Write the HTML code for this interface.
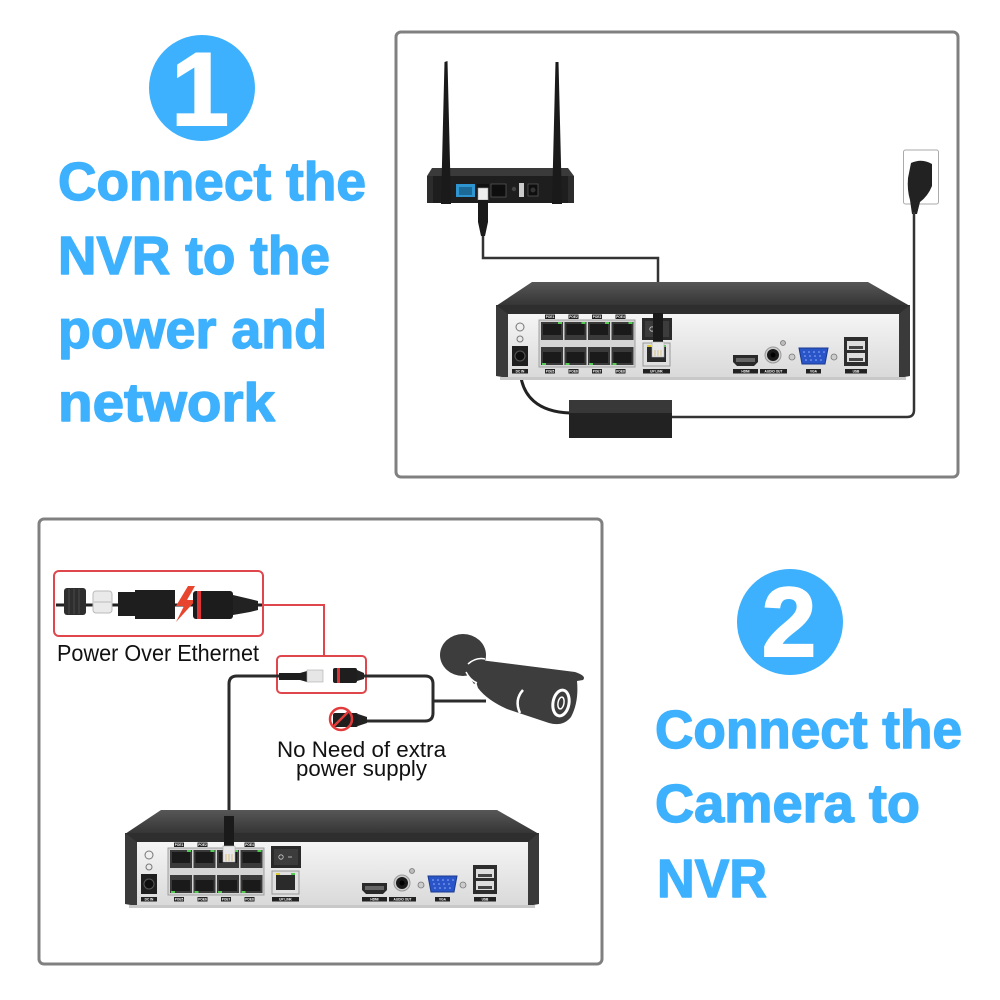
<!DOCTYPE html>
<html>
<head>
<meta charset="utf-8">
<style>
  html,body{margin:0;padding:0;background:#fff;}
  svg{display:block;}
  .bt{font-family:"Liberation Sans",Arial,sans-serif;font-weight:bold;fill:#3db1fd;stroke:#3db1fd;stroke-width:1.4px;stroke-linejoin:round;}
  .lb{font-family:"Liberation Sans",Arial,sans-serif;font-size:3.2px;fill:#fff;font-weight:bold;}
  .dt{font-family:"Liberation Sans",Arial,sans-serif;fill:#111;}
</style>
</head>
<body>
<svg width="1000" height="1000" viewBox="0 0 1000 1000" xmlns="http://www.w3.org/2000/svg">
  <defs>
    <linearGradient id="tg" x1="0" y1="0" x2="0" y2="1">
      <stop offset="0" stop-color="#575757"/>
      <stop offset="1" stop-color="#343434"/>
    </linearGradient>
    <linearGradient id="fg" x1="0" y1="0" x2="0" y2="1">
      <stop offset="0" stop-color="#f5f5f5"/>
      <stop offset="1" stop-color="#d9d9d9"/>
    </linearGradient>
  </defs>
  <rect width="1000" height="1000" fill="#fff"/>

  <!-- ===== Step 1 text ===== -->
  <circle cx="202" cy="88" r="53" fill="#3db1fd"/>
  <text x="200" y="125" font-size="104" text-anchor="middle" font-family="Liberation Sans, Arial, sans-serif" font-weight="bold" fill="#fff" stroke="#fff" stroke-width="2">1</text>
  <text class="bt" x="58" y="200" font-size="54" textLength="308" lengthAdjust="spacingAndGlyphs">Connect the</text>
  <text class="bt" x="58" y="274" font-size="54" textLength="272" lengthAdjust="spacingAndGlyphs">NVR to the</text>
  <text class="bt" x="58" y="348" font-size="54" textLength="269" lengthAdjust="spacingAndGlyphs">power and</text>
  <text class="bt" x="58" y="421" font-size="54" textLength="217" lengthAdjust="spacingAndGlyphs">network</text>

  <!-- ===== Step 2 text ===== -->
  <circle cx="790" cy="622" r="53" fill="#3db1fd"/>
  <text x="789" y="656" font-size="98" text-anchor="middle" font-family="Liberation Sans, Arial, sans-serif" font-weight="bold" fill="#fff" stroke="#fff" stroke-width="2">2</text>
  <text class="bt" x="655" y="748" font-size="54" textLength="307" lengthAdjust="spacingAndGlyphs">Connect the</text>
  <text class="bt" x="655" y="822" font-size="54" textLength="265" lengthAdjust="spacingAndGlyphs">Camera to</text>
  <text class="bt" x="657" y="897" font-size="54" textLength="110" lengthAdjust="spacingAndGlyphs">NVR</text>

  <!-- ===== Panels ===== -->
  <rect x="396" y="32" width="562" height="445" rx="5" fill="none" stroke="#808080" stroke-width="3"/>
  <rect x="39" y="519" width="563" height="445" rx="5" fill="none" stroke="#808080" stroke-width="3"/>

  <!-- ===== Top panel: router ===== -->
  <polygon points="432,168 568,168 574,176 427,176" fill="#3a3a3a"/>
  <rect x="427" y="176" width="147" height="27" fill="#1e1e1e"/>
  <rect x="427" y="176" width="6" height="27" fill="#2c2c2c"/>
  <rect x="568" y="176" width="6" height="27" fill="#2c2c2c"/>
  <polygon points="441,204 444.5,62 447.5,61 451,204" fill="#1a1a1a"/>
  <polygon points="552,204 555.5,62 558.5,62 562,204" fill="#1a1a1a"/>
  <rect x="456" y="184" width="19" height="13" fill="#2f95d0"/>
  <rect x="459" y="187" width="13" height="8" fill="#1b6a98"/>
  <rect x="477" y="184" width="12" height="13" fill="#111"/>
  <rect x="491" y="184" width="15" height="13" fill="#0e0e0e" stroke="#555" stroke-width="0.8"/>
  <circle cx="514" cy="189" r="2.2" fill="#444"/>
  <rect x="519" y="183" width="5" height="14" fill="#ccc"/>
  <rect x="528" y="184" width="10" height="12" fill="#0e0e0e" stroke="#555" stroke-width="0.8"/>
  <circle cx="533" cy="190" r="2.5" fill="#333"/>
  <!-- router plug -->
  <rect x="478" y="188" width="10" height="12" fill="#eee" stroke="#999" stroke-width="0.6"/>
  <path d="M478,200 H488 V222 L485,236 H481 L478,222 Z" fill="#1a1a1a"/>
  <path d="M483,236 V258 H658 V314" stroke="#333" stroke-width="2.5" fill="none"/>

  <!-- wall outlet -->
  <rect x="903.5" y="150" width="35" height="54" rx="2" fill="#fff" stroke="#aaa" stroke-width="1"/>
  <path d="M911,163 Q922,158 932,164 L932,186 Q928,196 920,202 L917,214 L912,214 L910,200 Q907,190 908,178 Z" fill="#222"/>
  <path d="M914,212 V410 Q914,417 907,417 H672" stroke="#333" stroke-width="2.5" fill="none"/>

  <!-- adapter -->
  <path d="M520,366 C520,398 540,412 570,413" stroke="#222" stroke-width="3" fill="none"/>
  <rect x="569" y="400" width="103" height="38" fill="#222"/>
  <rect x="569" y="400" width="103" height="13" fill="#383838"/>

  <!-- ===== NVR (top) ===== -->
  <g id="nvrTop">
    <polygon points="532,282 868,282 910,306 496,306" fill="url(#tg)"/>
    <rect x="496" y="305" width="414" height="10" fill="#2e2e2e"/>
    <rect x="507" y="314" width="393" height="64" fill="url(#fg)"/>
    <polygon points="496,305 508,314 508,378 496,376" fill="#3a3a3a"/>
    <polygon points="910,305 899,314 899,378 910,376" fill="#3a3a3a"/>
    <rect x="500" y="377" width="406" height="3" fill="#c8c8c8"/>
    <circle cx="520" cy="327" r="4" fill="none" stroke="#777" stroke-width="1"/>
    <circle cx="520" cy="339" r="3" fill="none" stroke="#777" stroke-width="1"/>
    <rect x="512" y="346" width="16" height="20" fill="#1e1e1e"/>
    <circle cx="520" cy="356" r="5" fill="#0e0e0e" stroke="#555" stroke-width="1"/>
    <rect x="512" y="369" width="16" height="4.5" fill="#222"/><text class="lb" x="520" y="372.6" text-anchor="middle">DC IN</text>
    <rect x="539" y="320" width="96" height="47" fill="#d5d5d5" stroke="#a0a0a0" stroke-width="1"/>
    <rect x="541" y="322" width="22" height="18" fill="#3a3a3a"/><rect x="543" y="324" width="18" height="11" fill="#1a1a1a"/><rect x="558" y="322" width="4" height="2" fill="#5c5"/>
    <rect x="564.5" y="322" width="22" height="18" fill="#3a3a3a"/><rect x="566.5" y="324" width="18" height="11" fill="#1a1a1a"/><rect x="581.5" y="322" width="4" height="2" fill="#5c5"/>
    <rect x="588" y="322" width="22" height="18" fill="#3a3a3a"/><rect x="590" y="324" width="18" height="11" fill="#1a1a1a"/><rect x="605" y="322" width="4" height="2" fill="#5c5"/>
    <rect x="611.5" y="322" width="22" height="18" fill="#3a3a3a"/><rect x="613.5" y="324" width="18" height="11" fill="#1a1a1a"/><rect x="628.5" y="322" width="4" height="2" fill="#5c5"/>
    <rect x="541" y="347" width="22" height="18" fill="#3a3a3a"/><rect x="543" y="352" width="18" height="11" fill="#1a1a1a"/><rect x="542" y="363" width="4" height="2" fill="#5c5"/>
    <rect x="564.5" y="347" width="22" height="18" fill="#3a3a3a"/><rect x="566.5" y="352" width="18" height="11" fill="#1a1a1a"/><rect x="565.5" y="363" width="4" height="2" fill="#5c5"/>
    <rect x="588" y="347" width="22" height="18" fill="#3a3a3a"/><rect x="590" y="352" width="18" height="11" fill="#1a1a1a"/><rect x="589" y="363" width="4" height="2" fill="#5c5"/>
    <rect x="611.5" y="347" width="22" height="18" fill="#3a3a3a"/><rect x="613.5" y="352" width="18" height="11" fill="#1a1a1a"/><rect x="612.5" y="363" width="4" height="2" fill="#5c5"/>
    <rect x="545" y="314.5" width="10" height="4.5" fill="#222"/><text class="lb" x="550" y="318" text-anchor="middle">POE1</text>
    <rect x="568.5" y="314.5" width="10" height="4.5" fill="#222"/><text class="lb" x="573.5" y="318" text-anchor="middle">POE2</text>
    <rect x="592" y="314.5" width="10" height="4.5" fill="#222"/><text class="lb" x="597" y="318" text-anchor="middle">POE3</text>
    <rect x="615.5" y="314.5" width="10" height="4.5" fill="#222"/><text class="lb" x="620.5" y="318" text-anchor="middle">POE4</text>
    <rect x="545" y="369" width="10" height="4.5" fill="#222"/><text class="lb" x="550" y="372.6" text-anchor="middle">POE5</text>
    <rect x="568.5" y="369" width="10" height="4.5" fill="#222"/><text class="lb" x="573.5" y="372.6" text-anchor="middle">POE6</text>
    <rect x="592" y="369" width="10" height="4.5" fill="#222"/><text class="lb" x="597" y="372.6" text-anchor="middle">POE7</text>
    <rect x="615.5" y="369" width="10" height="4.5" fill="#222"/><text class="lb" x="620.5" y="372.6" text-anchor="middle">POE8</text>
    <rect x="642" y="318" width="30" height="22" fill="#2a2a2a"/>
    <rect x="645" y="321" width="24" height="16" fill="#3c3c3c"/>
    <circle cx="652" cy="329" r="2.2" fill="none" stroke="#ccc" stroke-width="0.8"/>
    <line x1="659" y1="329" x2="663" y2="329" stroke="#ccc" stroke-width="0.8"/>
    <rect x="643" y="343" width="27" height="23" fill="#e0e0e0" stroke="#999" stroke-width="1"/>
    <rect x="647" y="347" width="19" height="15" fill="#2a2a2a"/>
    <rect x="647" y="345" width="4" height="2" fill="#dc3"/><rect x="662" y="345" width="4" height="2" fill="#5c5"/>
    <rect x="643" y="369" width="27" height="4.5" fill="#222"/><text class="lb" x="656.5" y="372.6" text-anchor="middle">UP LINK</text>
    <path d="M733,355 L758,355 L758,362 L754,366 L737,366 L733,362 Z" fill="#2a2a2a"/>
    <rect x="736" y="358" width="19" height="4" fill="#666"/>
    <rect x="733" y="369" width="25" height="4.5" fill="#222"/><text class="lb" x="745.5" y="372.6" text-anchor="middle">HDMI</text>
    <circle cx="773" cy="355" r="8" fill="#ccc" stroke="#999" stroke-width="1"/>
    <circle cx="773" cy="355" r="6" fill="#1a1a1a"/>
    <circle cx="773" cy="355" r="2.5" fill="#000"/>
    <circle cx="783" cy="343" r="2.5" fill="#bbb" stroke="#777" stroke-width="0.8"/>
    <rect x="760" y="369" width="27" height="4.5" fill="#222"/><text class="lb" x="773.5" y="372.6" text-anchor="middle">AUDIO OUT</text>
    <circle cx="792" cy="357" r="3" fill="#ccc" stroke="#777" stroke-width="0.8"/>
    <circle cx="834" cy="357" r="3" fill="#ccc" stroke="#777" stroke-width="0.8"/>
    <path d="M799,348 L828,348 L825,364 L802,364 Z" fill="#2a55c8" stroke="#1a3a90" stroke-width="1"/>
    <g fill="#9bb4ff">
      <circle cx="804" cy="352" r="0.8"/><circle cx="809" cy="352" r="0.8"/><circle cx="814" cy="352" r="0.8"/><circle cx="819" cy="352" r="0.8"/><circle cx="824" cy="352" r="0.8"/>
      <circle cx="805" cy="356" r="0.8"/><circle cx="810" cy="356" r="0.8"/><circle cx="815" cy="356" r="0.8"/><circle cx="820" cy="356" r="0.8"/>
      <circle cx="806" cy="360" r="0.8"/><circle cx="811" cy="360" r="0.8"/><circle cx="816" cy="360" r="0.8"/><circle cx="821" cy="360" r="0.8"/>
    </g>
    <rect x="806" y="369" width="15" height="4.5" fill="#222"/><text class="lb" x="813.5" y="372.6" text-anchor="middle">VGA</text>
    <rect x="844" y="337" width="24" height="29" fill="#2d2d2d"/>
    <rect x="847" y="341" width="18" height="9" fill="#ddd"/><rect x="849" y="346" width="14" height="3" fill="#444"/>
    <rect x="847" y="353" width="18" height="9" fill="#ddd"/><rect x="849" y="358" width="14" height="3" fill="#444"/>
    <rect x="845" y="369" width="22" height="4.5" fill="#222"/><text class="lb" x="856" y="372.6" text-anchor="middle">USB</text>
  </g>
  <!-- top NVR uplink plug -->
  <rect x="653" y="313" width="10" height="31" fill="#1a1a1a"/>
  <rect x="652" y="342" width="12" height="15" fill="#e8e8e8" stroke="#aaa" stroke-width="0.6"/>
  <line x1="655" y1="350" x2="655" y2="356" stroke="#c9a43a" stroke-width="0.6"/>
  <line x1="658" y1="350" x2="658" y2="356" stroke="#c9a43a" stroke-width="0.6"/>
  <line x1="661" y1="350" x2="661" y2="356" stroke="#c9a43a" stroke-width="0.6"/>

  <!-- ===== Bottom panel ===== -->
  <rect x="54" y="571" width="209" height="65" rx="5" fill="none" stroke="#e0474c" stroke-width="2"/>
  <path d="M56,605 H262" stroke="#222" stroke-width="3"/>
  <rect x="64" y="588" width="22" height="27" rx="3" fill="#2e2e2e"/>
  <g stroke="#4a4a4a" stroke-width="1">
    <line x1="69" y1="589" x2="69" y2="614"/><line x1="74" y1="589" x2="74" y2="614"/><line x1="79" y1="589" x2="79" y2="614"/>
  </g>
  <rect x="93" y="591" width="19" height="22" rx="3" fill="#eaeaea" stroke="#bbb" stroke-width="1"/>
  <line x1="94" y1="602" x2="111" y2="602" stroke="#bbb" stroke-width="1"/>
  <path d="M118,592 H135 V590 H175 V619 H135 V616 H118 Z" fill="#1e1e1e"/>
  <polygon points="188,586 176,606 184,606 176,622 196,600 187,600 195,586" fill="#e8452e"/>
  <rect x="193" y="591" width="40" height="28" rx="3" fill="#1c1c1c"/>
  <rect x="197" y="591" width="4" height="28" fill="#d33"/>
  <path d="M233,595 L250,599 L258,601 V610 L250,612 L233,615 Z" fill="#222"/>
  <text class="dt" x="57" y="661" font-size="23" textLength="202" lengthAdjust="spacingAndGlyphs">Power Over Ethernet</text>

  <path d="M263,605 H324 V656" stroke="#e0474c" stroke-width="2" fill="none"/>
  <rect x="277" y="656" width="89" height="37" rx="4" fill="none" stroke="#e0474c" stroke-width="2"/>

  <path d="M280,676 H237 Q229,676 229,684 V818" stroke="#2b2b2b" stroke-width="3" fill="none"/>
  <path d="M362,676 H425 Q433,676 433,684 V713 Q433,721 425,721 H366" stroke="#2b2b2b" stroke-width="3" fill="none"/>
  <path d="M433,701 H486" stroke="#2b2b2b" stroke-width="3" fill="none"/>

  <path d="M279,673 H300 L307,671 V682 L300,680 H279 Z" fill="#1e1e1e"/>
  <rect x="307" y="670" width="16" height="12" fill="#e6e6e6" stroke="#aaa" stroke-width="0.6"/>
  <rect x="333" y="668" width="24" height="15" rx="2" fill="#1e1e1e"/>
  <rect x="337" y="668" width="3" height="15" fill="#d33"/>
  <path d="M357,670 L364,673 V679 L357,681 Z" fill="#222"/>

  <rect x="333" y="713" width="25" height="14" rx="2" fill="#1e1e1e"/>
  <path d="M358,714 L367,717 V723 L358,726 Z" fill="#222"/>
  <circle cx="341" cy="719" r="11" fill="none" stroke="#e33b3b" stroke-width="2.5"/>
  <line x1="333" y1="727" x2="349" y2="711" stroke="#e33b3b" stroke-width="2.5"/>

  <text class="dt" x="277" y="757" font-size="22" textLength="169" lengthAdjust="spacingAndGlyphs">No Need of extra</text>
  <text class="dt" x="296" y="776" font-size="22" textLength="131" lengthAdjust="spacingAndGlyphs">power supply</text>

  <!-- camera -->
  <ellipse cx="463" cy="655" rx="23" ry="21" fill="#3d3d3d"/>
  <path d="M464,668 L482,657 L492,672 L474,684 Z" fill="#3d3d3d"/>
  <path d="M480,660 L575,672 Q587,676 583,680 L577,681 Q579,702 571,717 Q563,727 549,723 L507,709 Q487,700 478,688 Q472,672 480,660 Z" fill="#3d3d3d"/>
  <path d="M468,664 Q476,657 485,659" stroke="#fff" stroke-width="1.5" fill="none"/>
  <path d="M466,672 Q470,680 477,683" stroke="#fff" stroke-width="1.5" fill="none"/>
  <ellipse cx="561" cy="703" rx="8" ry="13" fill="none" stroke="#fff" stroke-width="3" transform="rotate(10 561 703)"/>
  <ellipse cx="561" cy="703" rx="3" ry="6" fill="none" stroke="#fff" stroke-width="1.5" transform="rotate(10 561 703)"/>
  <path d="M523,690 Q514,700 520,713" stroke="#fff" stroke-width="2.5" fill="none"/>

  <!-- bottom NVR -->
  <g transform="translate(-371,528)">
    <polygon points="532,282 868,282 910,306 496,306" fill="url(#tg)"/>
    <rect x="496" y="305" width="414" height="10" fill="#2e2e2e"/>
    <rect x="507" y="314" width="393" height="64" fill="url(#fg)"/>
    <polygon points="496,305 508,314 508,378 496,376" fill="#3a3a3a"/>
    <polygon points="910,305 899,314 899,378 910,376" fill="#3a3a3a"/>
    <rect x="500" y="377" width="406" height="3" fill="#c8c8c8"/>
    <circle cx="520" cy="327" r="4" fill="none" stroke="#777" stroke-width="1"/>
    <circle cx="520" cy="339" r="3" fill="none" stroke="#777" stroke-width="1"/>
    <rect x="512" y="346" width="16" height="20" fill="#1e1e1e"/>
    <circle cx="520" cy="356" r="5" fill="#0e0e0e" stroke="#555" stroke-width="1"/>
    <rect x="512" y="369" width="16" height="4.5" fill="#222"/><text class="lb" x="520" y="372.6" text-anchor="middle">DC IN</text>
    <rect x="539" y="320" width="96" height="47" fill="#d5d5d5" stroke="#a0a0a0" stroke-width="1"/>
    <rect x="541" y="322" width="22" height="18" fill="#3a3a3a"/><rect x="543" y="324" width="18" height="11" fill="#1a1a1a"/><rect x="558" y="322" width="4" height="2" fill="#5c5"/>
    <rect x="564.5" y="322" width="22" height="18" fill="#3a3a3a"/><rect x="566.5" y="324" width="18" height="11" fill="#1a1a1a"/><rect x="581.5" y="322" width="4" height="2" fill="#5c5"/>
    <rect x="588" y="322" width="22" height="18" fill="#3a3a3a"/><rect x="590" y="324" width="18" height="11" fill="#1a1a1a"/><rect x="605" y="322" width="4" height="2" fill="#5c5"/>
    <rect x="611.5" y="322" width="22" height="18" fill="#3a3a3a"/><rect x="613.5" y="324" width="18" height="11" fill="#1a1a1a"/><rect x="628.5" y="322" width="4" height="2" fill="#5c5"/>
    <rect x="541" y="347" width="22" height="18" fill="#3a3a3a"/><rect x="543" y="352" width="18" height="11" fill="#1a1a1a"/><rect x="542" y="363" width="4" height="2" fill="#5c5"/>
    <rect x="564.5" y="347" width="22" height="18" fill="#3a3a3a"/><rect x="566.5" y="352" width="18" height="11" fill="#1a1a1a"/><rect x="565.5" y="363" width="4" height="2" fill="#5c5"/>
    <rect x="588" y="347" width="22" height="18" fill="#3a3a3a"/><rect x="590" y="352" width="18" height="11" fill="#1a1a1a"/><rect x="589" y="363" width="4" height="2" fill="#5c5"/>
    <rect x="611.5" y="347" width="22" height="18" fill="#3a3a3a"/><rect x="613.5" y="352" width="18" height="11" fill="#1a1a1a"/><rect x="612.5" y="363" width="4" height="2" fill="#5c5"/>
    <rect x="545" y="314.5" width="10" height="4.5" fill="#222"/><text class="lb" x="550" y="318" text-anchor="middle">POE1</text>
    <rect x="568.5" y="314.5" width="10" height="4.5" fill="#222"/><text class="lb" x="573.5" y="318" text-anchor="middle">POE2</text>
    <rect x="615.5" y="314.5" width="10" height="4.5" fill="#222"/><text class="lb" x="620.5" y="318" text-anchor="middle">POE4</text>
    <rect x="545" y="369" width="10" height="4.5" fill="#222"/><text class="lb" x="550" y="372.6" text-anchor="middle">POE5</text>
    <rect x="568.5" y="369" width="10" height="4.5" fill="#222"/><text class="lb" x="573.5" y="372.6" text-anchor="middle">POE6</text>
    <rect x="592" y="369" width="10" height="4.5" fill="#222"/><text class="lb" x="597" y="372.6" text-anchor="middle">POE7</text>
    <rect x="615.5" y="369" width="10" height="4.5" fill="#222"/><text class="lb" x="620.5" y="372.6" text-anchor="middle">POE8</text>
    <rect x="642" y="318" width="30" height="22" fill="#2a2a2a"/>
    <rect x="645" y="321" width="24" height="16" fill="#3c3c3c"/>
    <circle cx="652" cy="329" r="2.2" fill="none" stroke="#ccc" stroke-width="0.8"/>
    <line x1="659" y1="329" x2="663" y2="329" stroke="#ccc" stroke-width="0.8"/>
    <rect x="643" y="343" width="27" height="23" fill="#e0e0e0" stroke="#999" stroke-width="1"/>
    <rect x="647" y="347" width="19" height="15" fill="#2a2a2a"/>
    <rect x="647" y="345" width="4" height="2" fill="#dc3"/><rect x="662" y="345" width="4" height="2" fill="#5c5"/>
    <rect x="643" y="369" width="27" height="4.5" fill="#222"/><text class="lb" x="656.5" y="372.6" text-anchor="middle">UP LINK</text>
    <path d="M733,355 L758,355 L758,362 L754,366 L737,366 L733,362 Z" fill="#2a2a2a"/>
    <rect x="736" y="358" width="19" height="4" fill="#666"/>
    <rect x="733" y="369" width="25" height="4.5" fill="#222"/><text class="lb" x="745.5" y="372.6" text-anchor="middle">HDMI</text>
    <circle cx="773" cy="355" r="8" fill="#ccc" stroke="#999" stroke-width="1"/>
    <circle cx="773" cy="355" r="6" fill="#1a1a1a"/>
    <circle cx="773" cy="355" r="2.5" fill="#000"/>
    <circle cx="783" cy="343" r="2.5" fill="#bbb" stroke="#777" stroke-width="0.8"/>
    <rect x="760" y="369" width="27" height="4.5" fill="#222"/><text class="lb" x="773.5" y="372.6" text-anchor="middle">AUDIO OUT</text>
    <circle cx="792" cy="357" r="3" fill="#ccc" stroke="#777" stroke-width="0.8"/>
    <circle cx="834" cy="357" r="3" fill="#ccc" stroke="#777" stroke-width="0.8"/>
    <path d="M799,348 L828,348 L825,364 L802,364 Z" fill="#2a55c8" stroke="#1a3a90" stroke-width="1"/>
    <g fill="#9bb4ff">
      <circle cx="804" cy="352" r="0.8"/><circle cx="809" cy="352" r="0.8"/><circle cx="814" cy="352" r="0.8"/><circle cx="819" cy="352" r="0.8"/><circle cx="824" cy="352" r="0.8"/>
      <circle cx="805" cy="356" r="0.8"/><circle cx="810" cy="356" r="0.8"/><circle cx="815" cy="356" r="0.8"/><circle cx="820" cy="356" r="0.8"/>
      <circle cx="806" cy="360" r="0.8"/><circle cx="811" cy="360" r="0.8"/><circle cx="816" cy="360" r="0.8"/><circle cx="821" cy="360" r="0.8"/>
    </g>
    <rect x="806" y="369" width="15" height="4.5" fill="#222"/><text class="lb" x="813.5" y="372.6" text-anchor="middle">VGA</text>
    <rect x="844" y="337" width="24" height="29" fill="#2d2d2d"/>
    <rect x="847" y="341" width="18" height="9" fill="#ddd"/><rect x="849" y="346" width="14" height="3" fill="#444"/>
    <rect x="847" y="353" width="18" height="9" fill="#ddd"/><rect x="849" y="358" width="14" height="3" fill="#444"/>
    <rect x="845" y="369" width="22" height="4.5" fill="#222"/><text class="lb" x="856" y="372.6" text-anchor="middle">USB</text>
  </g>
  <rect x="224" y="816" width="10" height="32" fill="#1a1a1a"/>
  <rect x="223" y="846" width="12" height="16" fill="#e8e8e8" stroke="#aaa" stroke-width="0.6"/>
  <line x1="226" y1="854" x2="226" y2="861" stroke="#c9a43a" stroke-width="0.6"/>
  <line x1="229" y1="854" x2="229" y2="861" stroke="#c9a43a" stroke-width="0.6"/>
  <line x1="232" y1="854" x2="232" y2="861" stroke="#c9a43a" stroke-width="0.6"/>
</svg>
</body>
</html>
